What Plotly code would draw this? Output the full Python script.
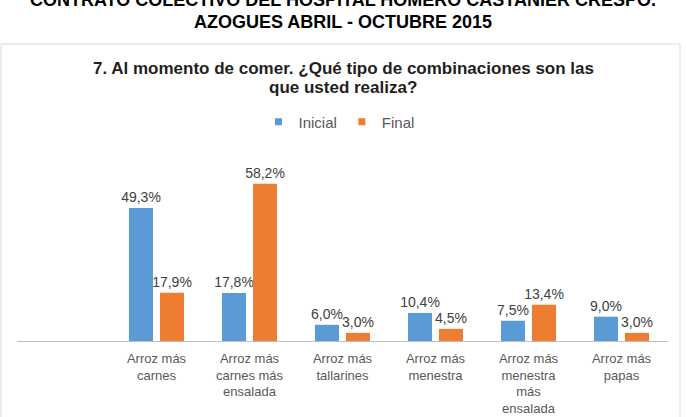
import plotly.graph_objects as go

categories = [
    "Arroz más<br>carnes",
    "Arroz más<br>carnes más<br>ensalada",
    "Arroz más<br>tallarines",
    "Arroz más<br>menestra",
    "Arroz más<br>menestra<br>más<br>ensalada",
    "Arroz más<br>papas",
]
inicial = [49.3, 17.8, 6.0, 10.4, 7.5, 9.0]
final = [17.9, 58.2, 3.0, 4.5, 13.4, 3.0]
series_names = ["Inicial", "Final"]
colors = ["#5b9bd5", "#ed7d31"]

header_lines = ["CONTRATO COLECTIVO DEL HOSPITAL HOMERO CASTANIER CRESPO.",
                "AZOGUES ABRIL - OCTUBRE 2015"]
title_lines = ["7. Al momento de comer. ¿Qué tipo de combinaciones son las",
               "que usted realiza?"]


def fmt(v):
    return f"{v:.1f}%".replace(".", ",")


W, H = 686, 417
L, R, T, B = 17, 18, 152, 76
plot_h = H - T - B

fig = go.Figure()
for name, vals, col in zip(series_names, [inicial, final], colors):
    fig.add_trace(go.Bar(
        x=categories, y=vals, name=name,
        marker=dict(color=col, line=dict(width=0)),
        text=[fmt(v) for v in vals],
        textposition="outside",
        textangle=0,
        constraintext="none",
        cliponaxis=False,
        textfont=dict(size=14, color="#404040", family="Liberation Sans"),
        showlegend=False,
    ))
    fig.add_trace(go.Scatter(
        x=[None], y=[None], mode="markers", name=name,
        marker=dict(symbol="square", size=7, color=col),
    ))


def py(pix):
    return (H - B - pix) / plot_h


def px(pix):
    return (pix - L) / (W - L - R)


fig.add_shape(type="rect", xref="paper", yref="paper",
              x0=px(1), x1=px(680), y0=py(430), y1=py(44),
              line=dict(color="#d9d9d9", width=1), fillcolor="rgba(0,0,0,0)", layer="below")

for txt, yc in zip(header_lines, [0, 22]):
    fig.add_annotation(text="<b>" + txt + "</b>", xref="paper", yref="paper",
                       x=px(343), y=py(yc), xanchor="center", yanchor="middle",
                       showarrow=False, align="center", borderpad=0,
                       font=dict(size=18, color="#000000", family="Liberation Sans"))
for txt, yc in zip(title_lines, [68, 87.5]):
    fig.add_annotation(text="<b>" + txt + "</b>", xref="paper", yref="paper",
                       x=px(343), y=py(yc), xanchor="center", yanchor="middle",
                       showarrow=False, align="center", borderpad=0,
                       font=dict(size=17, color="#1f1f1f", family="Liberation Sans"))

fig.update_layout(
    width=W, height=H,
    margin=dict(l=L, r=R, t=T, b=B),
    paper_bgcolor="white", plot_bgcolor="white",
    barmode="group", bargap=0.333, bargroupgap=0.226,
    font=dict(family="Liberation Sans", color="#595959"),
    legend=dict(orientation="h", x=px(339), xanchor="center", y=py(122), yanchor="middle",
                font=dict(size=15, color="#595959", family="Liberation Sans"),
                itemwidth=30, tracegroupgap=0),
    xaxis=dict(type="category", range=[-1.5, 5.5], showgrid=False, automargin=False,
               showline=True, linecolor="#bfbfbf", linewidth=1, ticks="",
               ticklabelstandoff=5,
               tickfont=dict(size=13, color="#595959"), fixedrange=True),
    yaxis=dict(range=[0, 70], visible=False, showgrid=False, zeroline=False,
               automargin=False, fixedrange=True),
)

fig.write_html("out.html")
